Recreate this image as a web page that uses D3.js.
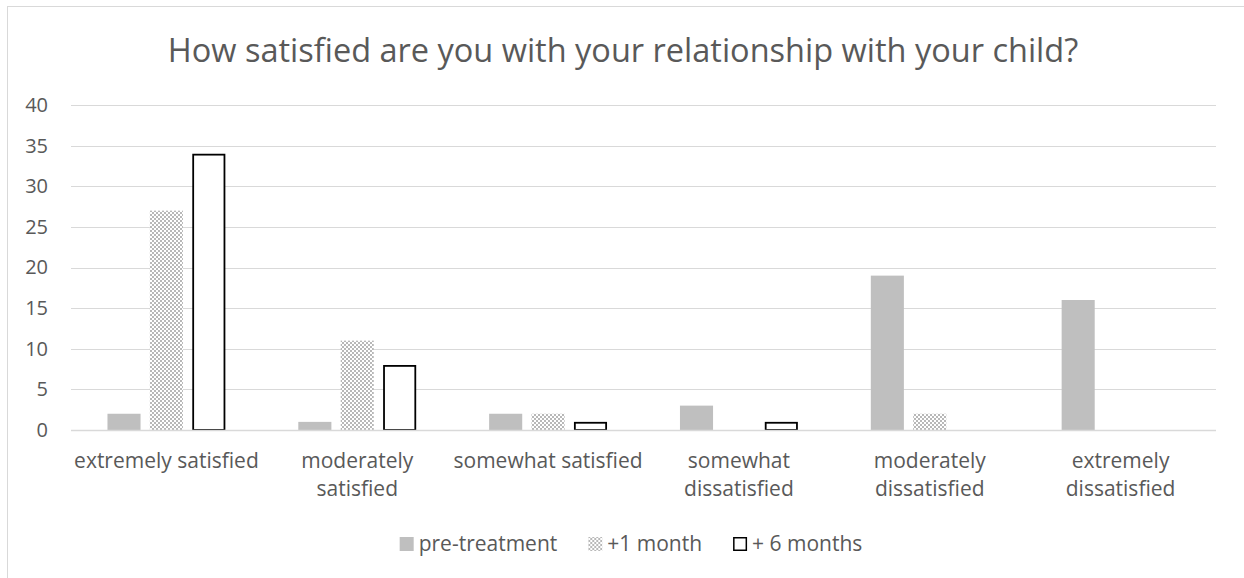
<!DOCTYPE html>
<html>
<head>
<meta charset="utf-8">
<script src="https://cdn.jsdelivr.net/npm/d3@7"></script>
<style>
  body { margin: 0; background: #fff; }
  text { font-family: "Open Sans", sans-serif; fill: #595959; }
</style>
</head>
<body>
<div id="chart"></div>
<script>
const width = 1244;
const height = 578;
const margin = { top: 105, bottom: 148, left: 71, right: 28 }

const title = 'How satisfied are you with your relationship with your child?'
const categories = ['extremely satisfied', 'moderately satisfied', 'somewhat satisfied',
    'somewhat dissatisfied', 'moderately dissatisfied', 'extremely dissatisfied']
const series = ['pre-treatment', '+1 month', '+ 6 months']
const preTreatment = [2, 1, 2, 3, 19, 16]
const oneMonth = [27, 11, 2, 0, 2, 0]
const sixMonths = [34, 8, 1, 1, 0, 0]
const yTicks = [0, 5, 10, 15, 20, 25, 30, 35, 40]

const values = [preTreatment, oneMonth, sixMonths]

const svg = d3.select('#chart')
    .append('svg')
    .attr('width', width)
    .attr('height', height)

// checker pattern for the +1 month series
const defs = svg.append('defs')
const pat = defs.append('pattern')
    .attr('id', 'checker')
    .attr('patternUnits', 'userSpaceOnUse')
    .attr('width', 4)
    .attr('height', 4)
pat.append('rect').attr('width', 4).attr('height', 4).attr('fill', '#fff')
pat.append('rect').attr('width', 2).attr('height', 2).attr('fill', '#b8b8b8')
pat.append('rect').attr('x', 2).attr('y', 2).attr('width', 2).attr('height', 2).attr('fill', '#b8b8b8')

const fills = ['#bfbfbf', 'url(#checker)', '#fff']
const strokes = ['none', 'none', '#000']

// chart border
svg.append('rect')
    .attr('x', 7.5)
    .attr('y', 6.5)
    .attr('width', width + 20)
    .attr('height', height + 20)
    .attr('fill', 'none')
    .attr('stroke', '#d9d9d9')

svg.append('text')
    .attr('x', 623)
    .attr('y', 62)
    .attr('text-anchor', 'middle')
    .style('font-size', '32.5px')
    .text(title)

const x = d3.scaleBand()
    .domain(categories)
    .range([margin.left, width - margin.right])

const x1 = d3.scaleBand()
    .domain(series)
    .range([0, x.bandwidth()])
    .paddingInner(0.22)
    .paddingOuter(0.86)

const y = d3.scaleLinear()
    .domain([0, 40])
    .range([height - margin.bottom, margin.top])

// gridlines
svg.append('g')
    .selectAll('line')
    .data(yTicks)
    .join('line')
    .attr('x1', margin.left)
    .attr('x2', width - margin.right)
    .attr('y1', d => Math.round(y(d)) + 0.5)
    .attr('y2', d => Math.round(y(d)) + 0.5)
    .attr('stroke', '#d9d9d9')
    .attr('stroke-width', 1.2)

const yAxis = g => g
    .attr('transform', `translate(${margin.left},0)`)
    .call(d3.axisLeft(y).tickValues(yTicks).tickSize(0).tickPadding(23))
    .call(g => g.select('.domain').remove())
    .call(g => g.selectAll('text').style('font-size', '20px').attr('fill', '#595959'))

svg.append('g').call(yAxis)

// bars
const groups = svg.append('g')
    .selectAll('g')
    .data(series)
    .join('g')

groups.each(function (s, i) {
    d3.select(this)
        .selectAll('rect')
        .data(values[i].map((v, j) => ({ cat: categories[j], v })))
        .join('rect')
        .filter(d => d.v > 0)
        .attr('x', d => x(d.cat) + x1(s) + (i === 2 ? 0.9 : 0))
        .attr('y', d => y(d.v) + (i === 2 ? 0.9 : 0))
        .attr('width', x1.bandwidth() - (i === 2 ? 1.8 : 0))
        .attr('height', d => y(0) - y(d.v) - (i === 2 ? 0.9 : 0))
        .attr('fill', fills[i])
        .attr('stroke', strokes[i])
        .attr('stroke-width', 1.8)
})

// zero axis line
svg.append('line')
    .attr('x1', margin.left)
    .attr('x2', width - margin.right)
    .attr('y1', Math.round(y(0)) + 0.5)
    .attr('y2', Math.round(y(0)) + 0.5)
    .attr('stroke', '#d9d9d9')
    .attr('stroke-width', 1.5)

// category labels, wrapped to the band width
const xLabels = svg.append('g')
    .selectAll('text')
    .data(categories)
    .join('text')
    .attr('x', d => x(d) + x.bandwidth() / 2)
    .attr('y', 468)
    .attr('text-anchor', 'middle')
    .style('font-size', '21px')

xLabels.each(function (d) {
    const t = d3.select(this)
    const words = d.split(' ')
    let lines = [d]
    t.text(d)
    if (this.getComputedTextLength() > x.bandwidth()) {
        lines = [words.slice(0, -1).join(' '), words[words.length - 1]]
    }
    t.text(null)
    lines.forEach((l, k) => {
        t.append('tspan')
            .attr('x', x(d) + x.bandwidth() / 2)
            .attr('dy', k === 0 ? 0 : 28)
            .text(l)
    })
})

// legend
const legend = svg.append('g')
let lx = 0
series.forEach((s, i) => {
    const item = legend.append('g').attr('transform', `translate(${lx},0)`)
    item.append('rect')
        .attr('x', i === 2 ? 0.75 : 0)
        .attr('y', 537 + (i === 2 ? 0.75 : 0))
        .attr('width', i === 2 ? 12.5 : 14)
        .attr('height', i === 2 ? 12.5 : 14)
        .attr('fill', fills[i])
        .attr('stroke', strokes[i])
        .attr('stroke-width', 1.5)
    const txt = item.append('text')
        .attr('x', 19)
        .attr('y', 551)
        .style('font-size', '21px')
        .text(s)
    lx += 19 + txt.node().getComputedTextLength() + 31
})
const legendWidth = lx - 31
legend.attr('transform', `translate(${631 - legendWidth / 2},0)`)
</script>
</body>
</html>
